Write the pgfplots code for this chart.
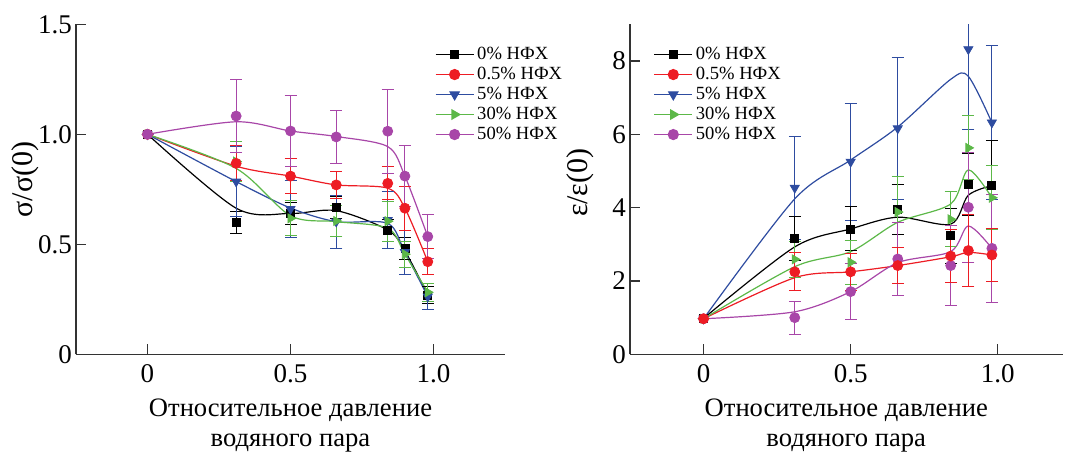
\documentclass[border=0pt]{standalone}
\usepackage{fontspec}
\setmainfont{Liberation Serif}
\usepackage{pgfplots}
\pgfplotsset{compat=1.18}

\definecolor{cblack}{RGB}{0,0,0}
\definecolor{cred}{RGB}{237,28,36}
\definecolor{cblue}{RGB}{46,76,160}
\definecolor{cgreen}{RGB}{92,184,72}
\definecolor{cmag}{RGB}{168,70,168}

\pgfplotsset{
  panel/.style={
    scale only axis,
    axis lines*=left,
    axis line style={line width=0.6pt, black!80},
    tick style={line width=0.6pt, black!80},
    tick align=inside,
    major tick length=5pt,
    xtick={0,0.5,1}, xticklabels={0,0.5,1.0},
    tick label style={font=\fontsize{13.5}{15}\selectfont},
    xticklabel style={yshift=-1.5pt},
    yticklabel style={xshift=1.5pt},
    xlabel style={font=\fontsize{13.3}{15}\selectfont},
    ylabel style={font=\fontsize{15}{17}\selectfont},
    /pgf/number format/assume math mode=true,
    xlabel={Относительное давление\\водяного пара},
    xlabel style={at={(axis description cs:0.5,-0.215)}, anchor=center, align=center},
    legend cell align=left,
    legend style={draw=none, fill=none, font=\fontsize{9.3}{10}\selectfont, anchor=north west,
      row sep=1pt, nodes={inner ysep=0.5pt, inner xsep=1.5pt, text height=6.5pt, text depth=1.5pt}},
    legend image code/.code={%
      \draw[mark repeat=2,mark phase=2,#1] plot coordinates {(0pt,0pt)(9.5pt,0pt)(19pt,0pt)};},
  },
  crv/.style={smooth, tension=0.5, no marks, line width=0.6pt, forget plot},
  pts/.style={only marks, forget plot,
    error bars/y dir=both, error bars/y explicit,
    error bars/error mark=|,
    error bars/error bar style={line width=0.5pt},
    error bars/error mark options={mark size=3pt, line width=0.5pt}},
  m0/.style={cblack, mark=square*, mark size=2pt},
  m1/.style={cred, mark=*, mark size=2.5pt},
  m2/.style={cblue, mark=triangle*, mark size=2.6pt, mark options={rotate=180}},
  m3/.style={cgreen, mark=triangle*, mark size=2.6pt, mark options={rotate=-90}},
  m4/.style={cmag, mark=*, mark size=2.5pt},
}

\begin{document}
\begin{tikzpicture}
\useasboundingbox (0,0) rectangle (533pt,225.5pt);

% ---- left: sigma/sigma(0)
\begin{axis}[panel, at={(38pt,48.35pt)}, anchor=south west,
  width=214.5pt, height=165pt,
  xmin=-0.25, xmax=1.25, ymin=0, ymax=1.5,
  ytick={0,0.5,1,1.5}, yticklabels={0,0.5,1.0,1.5},
  ylabel={σ/σ(0)},
  ylabel style={at={(axis description cs:-0.119,0.53)}, anchor=center},
  legend style={at={(axis description cs:0.822,0.949)}}]
\addplot[crv, cblack] coordinates {(0,1)(0.31,0.664)(0.5,0.64)(0.66,0.653)(0.84,0.565)(0.9,0.47)(0.98,0.27)};
\addplot[crv, cred] coordinates {(0,1)(0.31,0.855)(0.5,0.81)(0.66,0.77)(0.84,0.755)(0.9,0.664)(0.98,0.421)};
\addplot[crv, cblue] coordinates {(0,1)(0.31,0.785)(0.5,0.665)(0.66,0.603)(0.84,0.595)(0.9,0.464)(0.98,0.262)};
\addplot[crv, cgreen] coordinates {(0,1)(0.31,0.845)(0.5,0.63)(0.66,0.603)(0.84,0.573)(0.9,0.455)(0.98,0.282)};
\addplot[crv, cmag] coordinates {(0,1)(0.31,1.057)(0.5,1.015)(0.66,0.99)(0.84,0.944)(0.9,0.81)(0.98,0.535)};

\addplot[m0, pts] coordinates {(0,1.0) +- (0,0) (0.31,0.60) +- (0,0.05) (0.50,0.64) +- (0,0.05) (0.66,0.666) +- (0,0.05) (0.84,0.565) +- (0,0.05) (0.90,0.482) +- (0,0.05) (0.98,0.27) +- (0,0.04)};
\addplot[m2, pts] coordinates {(0,1.0) +- (0,0) (0.31,0.785) +- (0,0.16) (0.50,0.66) +- (0,0.13) (0.66,0.603) +- (0,0.12) (0.84,0.61) +- (0,0.13) (0.90,0.464) +- (0,0.1) (0.98,0.262) +- (0,0.06)};
\addplot[m3, pts] coordinates {(0,1.0) +- (0,0) (0.31,0.876) +- (0,0.09) (0.50,0.618) +- (0,0.08) (0.66,0.606) +- (0,0.07) (0.84,0.605) +- (0,0.09) (0.90,0.455) +- (0,0.06) (0.98,0.282) +- (0,0.04)};
\addplot[m1, pts] coordinates {(0,1.0) +- (0,0) (0.31,0.868) +- (0,0.08) (0.50,0.81) +- (0,0.08) (0.66,0.77) +- (0,0.06) (0.84,0.777) +- (0,0.075) (0.90,0.664) +- (0,0.1) (0.98,0.421) +- (0,0.06)};
\addplot[m4, pts] coordinates {(0,1.0) +- (0,0) (0.31,1.083) +- (0,0.167) (0.50,1.015) +- (0,0.16) (0.66,0.988) +- (0,0.12) (0.84,1.014) +- (0,0.19) (0.90,0.81) +- (0,0.14) (0.98,0.535) +- (0,0.1)};

\addlegendimage{m0, line width=0.6pt}\addlegendentry{0\% НФХ}
\addlegendimage{m1, line width=0.6pt}\addlegendentry{0.5\% НФХ}
\addlegendimage{m2, line width=0.6pt}\addlegendentry{5\% НФХ}
\addlegendimage{m3, line width=0.6pt}\addlegendentry{30\% НФХ}
\addlegendimage{m4, line width=0.6pt}\addlegendentry{50\% НФХ}
\end{axis}

% ---- right: epsilon/epsilon(0)
\begin{axis}[panel, at={(315pt,48.35pt)}, anchor=south west,
  width=216.25pt, height=165pt,
  xmin=-0.25, xmax=1.22, ymin=0, ymax=9,
  ytick={0,2,4,6,8},
  ylabel={ε/ε(0)},
  ylabel style={at={(axis description cs:-0.116,0.52)}, anchor=center},
  legend style={at={(axis description cs:0.04,0.949)}}]
\addplot[crv, cblack] coordinates {(0,0.98)(0.31,2.93)(0.5,3.42)(0.66,3.74)(0.84,3.55)(0.9,4.34)(0.98,4.6)};
\addplot[crv, cred] coordinates {(0,0.97)(0.31,2.09)(0.5,2.25)(0.66,2.42)(0.84,2.66)(0.9,2.78)(0.98,2.71)};
\addplot[crv, cblue] coordinates {(0,0.97)(0.31,4.24)(0.5,5.3)(0.66,6.2)(0.84,7.5)(0.9,7.58)(0.98,6.32)};
\addplot[crv, cgreen] coordinates {(0,0.97)(0.31,2.39)(0.5,2.8)(0.66,3.6)(0.84,4.1)(0.9,5.03)(0.98,4.27)};
\addplot[crv, cmag] coordinates {(0,0.97)(0.31,1.16)(0.5,1.71)(0.66,2.5)(0.84,2.8)(0.9,3.5)(0.98,2.89)};

\addplot[m2, pts] coordinates {(0,0.97) +- (0,0) (0.31,4.54) +- (0,1.4) (0.50,5.25) +- (0,1.6) (0.66,6.16) +- (0,1.93) (0.90,8.32) +- (0,2.2) (0.98,6.32) +- (0,2.1)};
\addplot[m0, pts] coordinates {(0,0.98) +- (0,0) (0.31,3.16) +- (0,0.6) (0.50,3.42) +- (0,0.6) (0.66,3.94) +- (0,0.68) (0.84,3.23) +- (0,0.75) (0.90,4.64) +- (0,0.85) (0.98,4.62) +- (0,1.2)};
\addplot[m3, pts] coordinates {(0,0.97) +- (0,0) (0.31,2.59) +- (0,0.5) (0.50,2.51) +- (0,0.6) (0.66,3.88) +- (0,0.96) (0.84,3.68) +- (0,0.75) (0.90,5.63) +- (0,0.87) (0.98,4.27) +- (0,0.87)};
\addplot[m4, pts] coordinates {(0,0.97) +- (0,0) (0.31,1.0) +- (0,0.45) (0.50,1.71) +- (0,0.76) (0.66,2.6) +- (0,1.0) (0.84,2.42) +- (0,1.1) (0.90,4.01) +- (0,1.5) (0.98,2.89) +- (0,1.47)};
\addplot[m1, pts] coordinates {(0,0.97) +- (0,0) (0.31,2.25) +- (0,0.52) (0.50,2.25) +- (0,0.5) (0.66,2.42) +- (0,0.5) (0.84,2.68) +- (0,0.73) (0.90,2.83) +- (0,0.97) (0.98,2.71) +- (0,0.72)};

\addlegendimage{m0, line width=0.6pt}\addlegendentry{0\% НФХ}
\addlegendimage{m1, line width=0.6pt}\addlegendentry{0.5\% НФХ}
\addlegendimage{m2, line width=0.6pt}\addlegendentry{5\% НФХ}
\addlegendimage{m3, line width=0.6pt}\addlegendentry{30\% НФХ}
\addlegendimage{m4, line width=0.6pt}\addlegendentry{50\% НФХ}
\end{axis}
\end{tikzpicture}
\end{document}
